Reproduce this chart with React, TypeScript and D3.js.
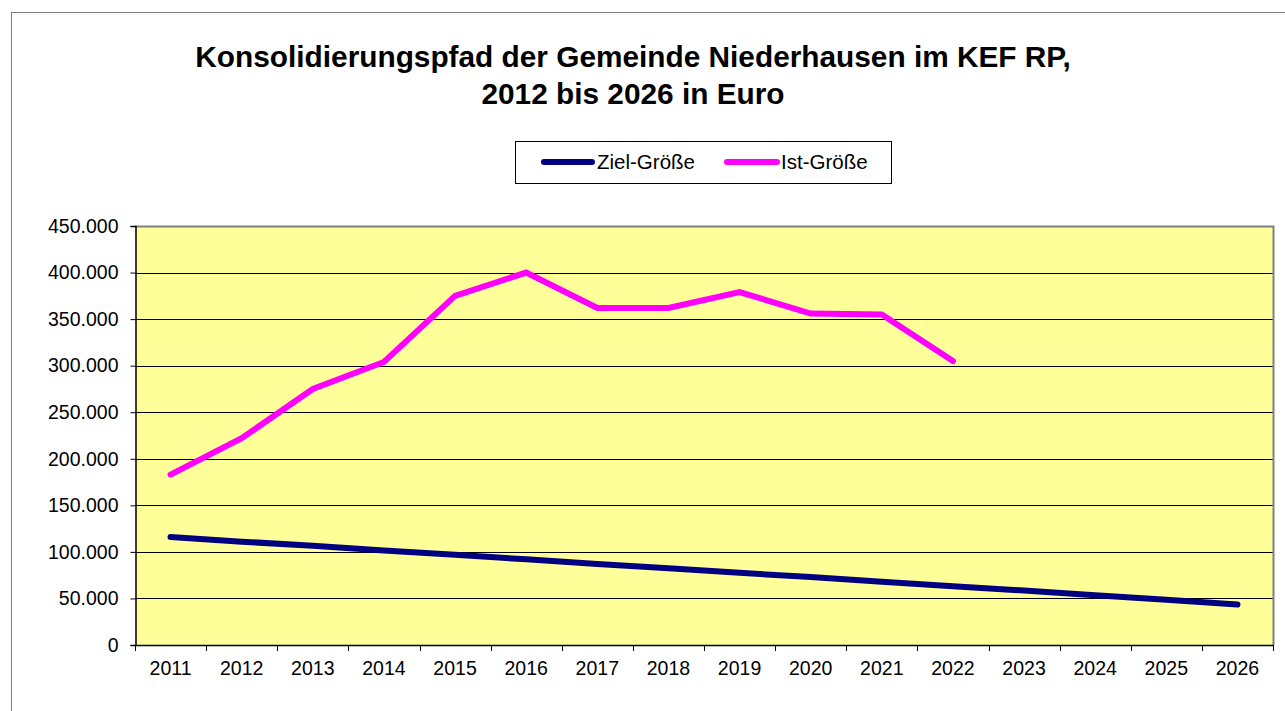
import React, { useRef, useEffect } from 'react';
import * as d3 from 'd3';

const years = ['2011', '2012', '2013', '2014', '2015', '2016', '2017', '2018', '2019', '2020', '2021', '2022', '2023', '2024', '2025', '2026'];
const zielValues = [116000, 111000, 106500, 101500, 97000, 92000, 87000, 82500, 77500, 73000, 68000, 63000, 58500, 53500, 48500, 43500];
const istValues = [183000, 222000, 275000, 304000, 375000, 400000, 362000, 362000, 379000, 356000, 355000, 305000];
const yTicks = [0, 50000, 100000, 150000, 200000, 250000, 300000, 350000, 400000, 450000];
const titleLines = ['Konsolidierungspfad der Gemeinde Niederhausen im KEF RP,', '2012 bis 2026 in Euro'];
const seriesNames = ['Ziel-Größe', 'Ist-Größe'];

export default function App() {
  const svgRef = useRef<SVGSVGElement | null>(null);

  useEffect(() => {
    if (!svgRef.current) return;
    const svg = d3.select(svgRef.current);
    svg.selectAll('*').remove();

    const width = 1285;
    const height = 711;
    const font = 'Arial, "Liberation Sans", sans-serif';
    const plot = { left: 135, top: 226, right: 1273, bottom: 645 };

    svg.attr('width', width).attr('height', height);

    // outer chart frame (right/bottom edge fall outside the picture)
    svg.append('rect')
      .attr('x', 11.5).attr('y', 12.5)
      .attr('width', 1300).attr('height', 720)
      .attr('fill', '#fff')
      .attr('stroke', '#808080');

    // title
    svg.append('text')
      .attr('font-family', font)
      .attr('font-size', '29.8px')
      .attr('font-weight', 'bold')
      .attr('text-anchor', 'middle')
      .attr('fill', '#000')
      .selectAll('tspan')
      .data(titleLines)
      .enter()
      .append('tspan')
      .attr('x', 633)
      .attr('y', (d, i) => 67 + i * 37)
      .text(d => d);

    const x = d3.scaleBand()
      .domain(years)
      .range([plot.left, plot.right]);

    const y = d3.scaleLinear()
      .domain([0, 450000])
      .range([plot.bottom, plot.top]);

    // plot background
    svg.append('rect')
      .attr('x', plot.left).attr('y', plot.top)
      .attr('width', plot.right - plot.left)
      .attr('height', plot.bottom - plot.top)
      .attr('fill', '#FFFF99');

    // gridlines
    svg.append('g')
      .selectAll('line')
      .data(yTicks.filter(d => d > 0))
      .enter()
      .append('line')
      .attr('x1', plot.left).attr('x2', plot.right)
      .attr('y1', d => Math.round(y(d)) + 0.5)
      .attr('y2', d => Math.round(y(d)) + 0.5)
      .attr('stroke', '#000')
      .attr('stroke-width', 1);

    // gray frame on top and right side
    svg.append('path')
      .attr('d', `M${plot.left},${plot.top + 0.5}H${plot.right + 0.5}V${plot.bottom}`)
      .attr('fill', 'none')
      .attr('stroke', '#808080')
      .attr('stroke-width', 2);

    // y axis
    const yAxis = d3.axisLeft(y)
      .tickValues(yTicks)
      .tickSize(5)
      .tickPadding(12)
      .tickFormat(d => d3.format(',')(d as number).replace(/,/g, '.'));
    svg.append('g')
      .attr('transform', `translate(${plot.left + 0.5},0)`)
      .call(yAxis)
      .call(g => g.select('.domain').attr('stroke', '#000').attr('stroke-width', 1.5))
      .call(g => g.selectAll('.tick line').attr('stroke', '#000'))
      .selectAll('text')
      .attr('font-family', font)
      .attr('font-size', '19.5px')
      .attr('fill', '#000');

    // x axis: ticks between categories
    svg.append('line')
      .attr('x1', plot.left).attr('x2', plot.right + 1)
      .attr('y1', plot.bottom + 0.5).attr('y2', plot.bottom + 0.5)
      .attr('stroke', '#000')
      .attr('stroke-width', 1.5);
    svg.append('g')
      .selectAll('line')
      .data(years.concat(['end']))
      .enter()
      .append('line')
      .attr('x1', (d, i) => Math.round(plot.left + i * x.step()) + 0.5)
      .attr('x2', (d, i) => Math.round(plot.left + i * x.step()) + 0.5)
      .attr('y1', plot.bottom)
      .attr('y2', plot.bottom + 6)
      .attr('stroke', '#000');
    svg.append('g')
      .selectAll('text')
      .data(years)
      .enter()
      .append('text')
      .attr('x', d => (x(d) || 0) + x.bandwidth() / 2)
      .attr('y', 675)
      .attr('text-anchor', 'middle')
      .attr('font-family', font)
      .attr('font-size', '19.5px')
      .attr('fill', '#000')
      .text(d => d);

    const line = d3.line<number>()
      .x((d, i) => (x(years[i]) || 0) + x.bandwidth() / 2)
      .y(d => y(d));

    svg.append('path')
      .datum(zielValues)
      .attr('d', line)
      .attr('fill', 'none')
      .attr('stroke', '#000080')
      .attr('stroke-width', 6)
      .attr('stroke-linecap', 'round')
      .attr('stroke-linejoin', 'round');

    svg.append('path')
      .datum(istValues)
      .attr('d', line)
      .attr('fill', 'none')
      .attr('stroke', '#FF00FF')
      .attr('stroke-width', 6)
      .attr('stroke-linecap', 'round')
      .attr('stroke-linejoin', 'miter');

    // legend
    const legend = svg.append('g');
    legend.append('rect')
      .attr('x', 515.5).attr('y', 141.5)
      .attr('width', 376).attr('height', 42)
      .attr('fill', '#fff')
      .attr('stroke', '#000');
    const legendItems = [
      { name: seriesNames[0], color: '#000080', x1: 544, x2: 592, tx: 597 },
      { name: seriesNames[1], color: '#FF00FF', x1: 727, x2: 777, tx: 781 }
    ];
    legendItems.forEach(item => {
      legend.append('line')
        .attr('x1', item.x1).attr('x2', item.x2)
        .attr('y1', 162).attr('y2', 162)
        .attr('stroke', item.color)
        .attr('stroke-width', 6)
        .attr('stroke-linecap', 'round');
      legend.append('text')
        .attr('x', item.tx)
        .attr('y', 169)
        .attr('font-family', font)
        .attr('font-size', '20.5px')
        .attr('fill', '#000')
        .text(item.name);
    });
  }, []);

  return (
    <div style={{ position: 'absolute', left: 0, top: 0, width: 1285, height: 711, background: '#fff' }}>
      <svg ref={svgRef} style={{ display: 'block' }} />
    </div>
  );
}
